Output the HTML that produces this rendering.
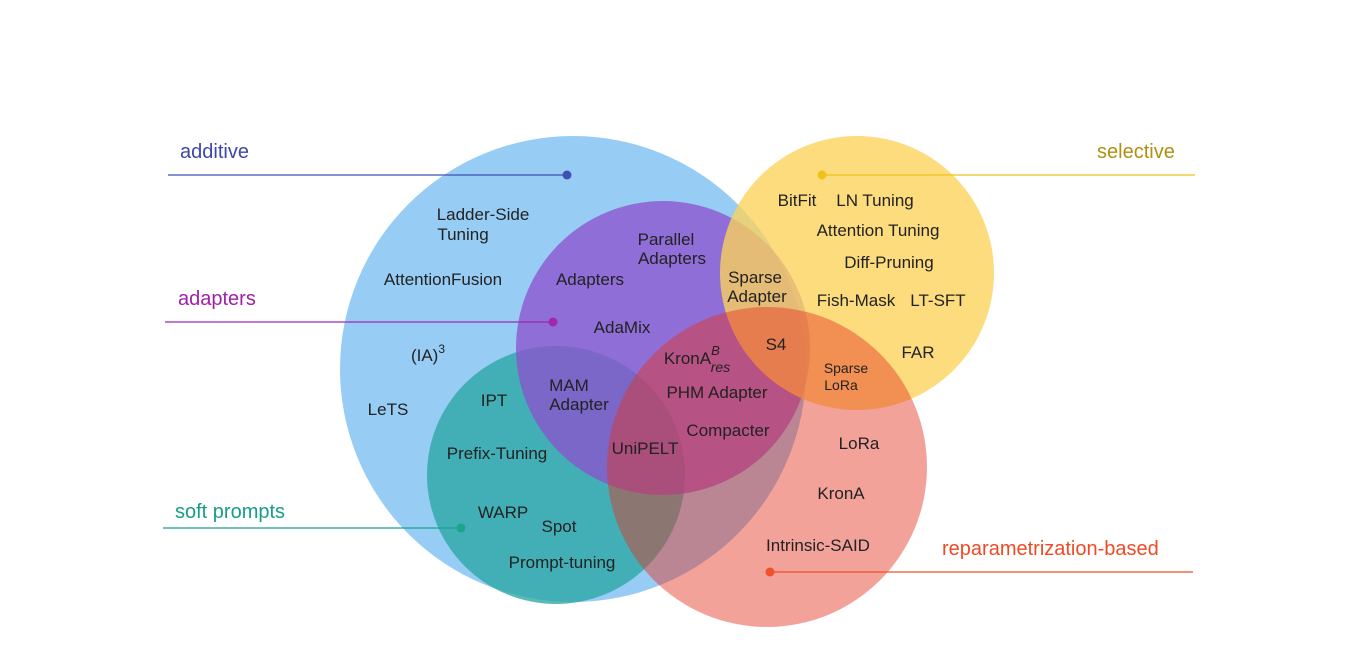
<!DOCTYPE html>
<html><head><meta charset="utf-8"><style>
body{margin:0;background:#fff}
svg text{font-family:"Liberation Sans",Arial,sans-serif;fill:#222}
</style></head><body>
<svg width="1357" height="654" viewBox="0 0 1357 654">
<g>
<circle cx="573" cy="369" r="233" fill="#8ec8f4" opacity="0.92"/>
<circle cx="556" cy="475" r="129" fill="#2aa7a4" opacity="0.78"/>
<circle cx="663" cy="348" r="147" fill="#8d4fcc" opacity="0.75"/>
<circle cx="857" cy="273" r="137" fill="#fcd25a" opacity="0.78"/>
<circle cx="767" cy="467" r="160" fill="#e5301e" opacity="0.45"/>
</g>
<g stroke-width="1.3">
<line x1="168" y1="175" x2="567" y2="175" stroke="#4050b0"/><circle cx="567" cy="175" r="4.5" fill="#4050b0"/>
<line x1="165" y1="322" x2="553" y2="322" stroke="#a028b0"/><circle cx="553" cy="322" r="4.5" fill="#a028b0"/>
<line x1="163" y1="528" x2="461" y2="528" stroke="#1aa58a"/><circle cx="461" cy="528" r="4.5" fill="#1aa58a"/>
<line x1="822" y1="175" x2="1195" y2="175" stroke="#eec21a"/><circle cx="822" cy="175" r="4.5" fill="#eec21a"/>
<line x1="770" y1="572" x2="1193" y2="572" stroke="#f0502a"/><circle cx="770" cy="572" r="4.5" fill="#f0502a"/>
</g>
<g font-size="20">
<text x="180" y="158" style="fill:#3c47a8">additive</text>
<text x="178" y="305" style="fill:#a020a8">adapters</text>
<text x="175" y="518" style="fill:#159e86">soft prompts</text>
<text x="1097" y="158" style="fill:#b09010">selective</text>
<text x="942" y="555" style="fill:#ee4a26">reparametrization-based</text>
</g>
<g font-size="17" text-anchor="middle">
<text x="483" y="220">Ladder-Side</text><text x="463" y="240">Tuning</text>
<text x="443" y="285">AttentionFusion</text>
<text x="428" y="361">(IA)<tspan dy="-8" font-size="12">3</tspan></text>
<text x="388" y="415">LeTS</text>
<text x="494" y="406">IPT</text>
<text x="497" y="459">Prefix-Tuning</text>
<text x="503" y="518">WARP</text>
<text x="559" y="532">Spot</text>
<text x="562" y="568">Prompt-tuning</text>
<text x="666" y="245">Parallel</text><text x="672" y="264">Adapters</text>
<text x="590" y="285">Adapters</text>
<text x="622" y="333">AdaMix</text>
<text x="569" y="391">MAM</text><text x="579" y="410">Adapter</text>
<text x="645" y="454">UniPELT</text>
<text x="697" y="364">KronA<tspan dy="-9" font-size="13" font-style="italic">B</tspan><tspan dx="-9" dy="17" font-size="14" font-style="italic">res</tspan></text>
<text x="717" y="398">PHM Adapter</text>
<text x="728" y="436">Compacter</text>
<text x="755" y="283">Sparse</text><text x="757" y="302">Adapter</text>
<text x="776" y="350">S4</text>
<text x="797" y="206">BitFit</text>
<text x="875" y="206">LN Tuning</text>
<text x="878" y="236">Attention Tuning</text>
<text x="889" y="268">Diff-Pruning</text>
<text x="856" y="306">Fish-Mask</text>
<text x="938" y="306">LT-SFT</text>
<text x="918" y="358">FAR</text>
<text x="846" y="373" font-size="14">Sparse</text><text x="841" y="390" font-size="14">LoRa</text>
<text x="859" y="449">LoRa</text>
<text x="841" y="499">KronA</text>
<text x="818" y="551">Intrinsic-SAID</text>
</g>
</svg>
</body></html>
